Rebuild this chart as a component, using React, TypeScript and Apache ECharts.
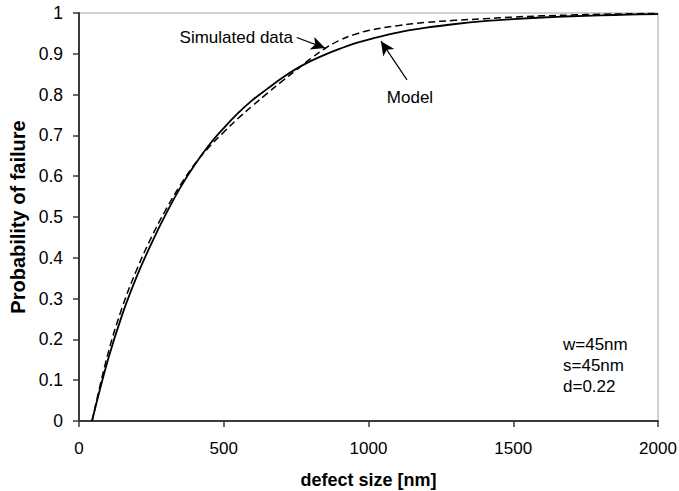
import React, { useEffect, useRef } from "react";
import * as echarts from "echarts";

const defectSizes = [45, 100, 150, 200, 250, 300, 350, 400, 450, 500, 550, 600, 650, 700, 750, 800, 850, 900, 950, 1000, 1100, 1200, 1300, 1400, 1500, 1600, 1700, 1800, 1900, 2000];
const modelValues = [0, 0.15, 0.262, 0.355, 0.435, 0.507, 0.572, 0.628, 0.677, 0.718, 0.755, 0.787, 0.814, 0.84, 0.863, 0.882, 0.898, 0.912, 0.925, 0.935, 0.952, 0.964, 0.973, 0.98, 0.985, 0.989, 0.992, 0.994, 0.996, 0.997];
const simulatedValues = [0, 0.165, 0.28, 0.372, 0.45, 0.518, 0.578, 0.63, 0.672, 0.708, 0.742, 0.773, 0.803, 0.832, 0.86, 0.888, 0.913, 0.933, 0.947, 0.957, 0.969, 0.977, 0.982, 0.986, 0.99, 0.993, 0.995, 0.997, 0.998, 0.999];

const simulatedArrow = [[752, 0.94], [850, 0.914]];
const modelArrow = [[1133, 0.836], [1043, 0.931]];

const paramLines = ["w=45nm", "s=45nm", "d=0.22"];

const FONT = '"Liberation Sans", Arial, sans-serif';

export default function App() {
  const ref = useRef<HTMLDivElement>(null);
  useEffect(() => {
    if (!ref.current) return;
    const chart = echarts.init(ref.current, null, { renderer: "svg" });
    const zip = (vals: number[]) => defectSizes.map((x, i) => [x, vals[i]]);
    const arrowLine = (pts: number[][]) => [
      { coord: pts[0], symbol: "none" },
      { coord: pts[1], symbol: "arrow", symbolSize: [10, 14] },
    ];
    chart.setOption({
      animation: false,
      grid: {
        left: 79,
        right: 21,
        top: 13,
        bottom: 70,
        containLabel: false,
        outerBoundsMode: "none",
        show: true,
        borderColor: "#a0a0a0",
        borderWidth: 1,
      },
      xAxis: {
        type: "value",
        min: 0,
        max: 2000,
        interval: 500,
        name: "defect size [nm]",
        nameLocation: "middle",
        nameGap: 50,
        nameTextStyle: { fontFamily: FONT, fontSize: 18, fontWeight: "bold", color: "#000" },
        axisLine: { lineStyle: { color: "#3a3a3a", width: 2 } },
        axisTick: { show: true, inside: false, length: 6, lineStyle: { color: "#3a3a3a", width: 1.5 } },
        axisLabel: { fontFamily: FONT, fontSize: 17, color: "#000", margin: 19, formatter: (v: number) => String(v) },
        splitLine: { show: false },
      },
      yAxis: {
        type: "value",
        min: 0,
        max: 1,
        interval: 0.1,
        name: "Probability of failure",
        nameLocation: "middle",
        nameGap: 51,
        nameTextStyle: { fontFamily: FONT, fontSize: 20, fontWeight: "bold", color: "#000" },
        axisLine: { show: true, lineStyle: { color: "#3a3a3a", width: 2 } },
        axisTick: { show: true, inside: false, length: 6, lineStyle: { color: "#3a3a3a", width: 1.5 } },
        axisLabel: { fontFamily: FONT, fontSize: 17.5, color: "#000", margin: 16, formatter: (v: number) => String(Math.round(v * 10) / 10) },
        splitLine: { show: false },
      },
      series: [
        {
          name: "Model",
          type: "line",
          data: zip(modelValues),
          showSymbol: false,
          smooth: 0.4,
          lineStyle: { color: "#000", width: 1.8 },
          markLine: {
            silent: true,
            label: { show: false },
            lineStyle: { color: "#000", width: 1.2, type: "solid" },
            data: [arrowLine(modelArrow)],
          },
        },
        {
          name: "Simulated data",
          type: "line",
          data: zip(simulatedValues),
          showSymbol: false,
          smooth: 0.4,
          lineStyle: { color: "#000", width: 1.5, type: [7, 4] },
          markLine: {
            silent: true,
            label: { show: false },
            lineStyle: { color: "#000", width: 1.2, type: "solid" },
            data: [arrowLine(simulatedArrow)],
          },
        },
      ],
      graphic: [
        {
          type: "text",
          x: 293,
          y: 37,
          style: { text: "Simulated data", font: `17px ${FONT}`, fill: "#000", align: "right", verticalAlign: "middle" },
        },
        {
          type: "text",
          x: 410,
          y: 97,
          style: { text: "Model", font: `17px ${FONT}`, fill: "#000", align: "center", verticalAlign: "middle" },
        },
        ...paramLines.map((t, i) => ({
          type: "text",
          x: 563,
          y: 344 + i * 21,
          style: { text: t, font: `17px ${FONT}`, fill: "#000", align: "left", verticalAlign: "middle" },
        })),
      ],
    });
    return () => chart.dispose();
  }, []);
  return <div ref={ref} style={{ position: "absolute", left: 0, top: 0, width: 679, height: 491, background: "#fff" }} />;
}
